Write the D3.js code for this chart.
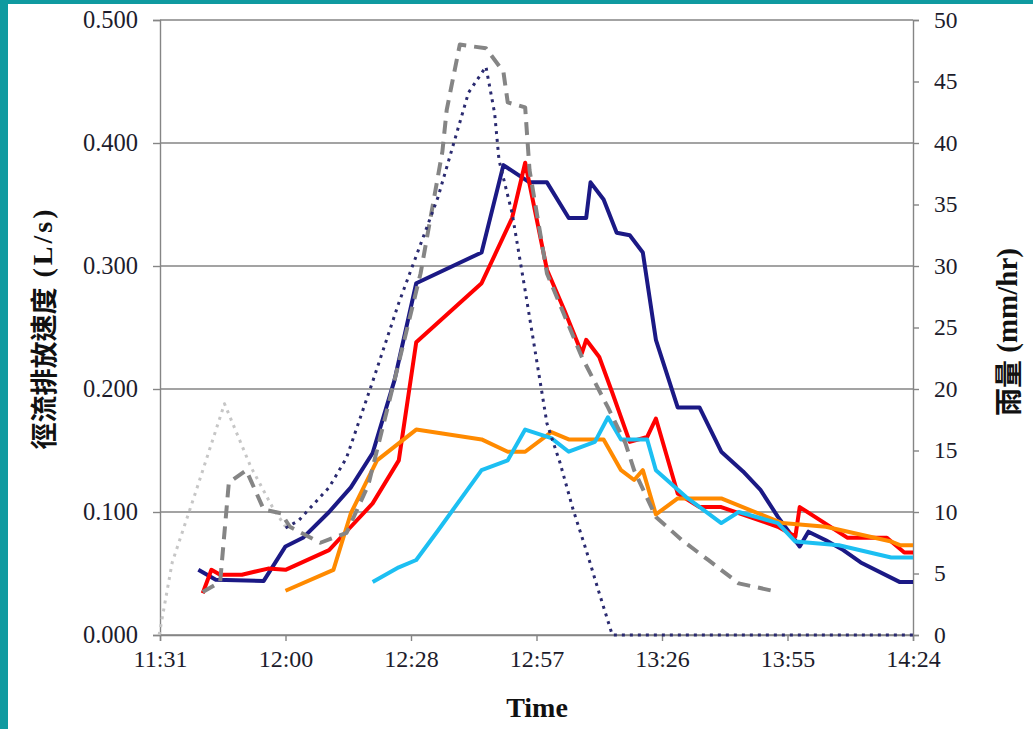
<!DOCTYPE html>
<html><head><meta charset="utf-8">
<script src="https://cdn.jsdelivr.net/npm/d3@7"></script>
<style>html,body{margin:0;padding:0;background:#fff;}svg{display:block;}</style>
</head><body>
<script>
// ---- data ----
const xTickLabels = ["11:31","12:00","12:28","12:57","13:26","13:55","14:24"];
const xTickDays = [0.48,0.50,0.52,0.54,0.56,0.58,0.60];
const leftTicks = [0,0.1,0.2,0.3,0.4,0.5];
const rightTicks = [0,5,10,15,20,25,30,35,40,45,50];

const navyTimes = ["11:40","11:44","11:55","12:00","12:04","12:10","12:15","12:20","12:25","12:30","12:45","12:50","12:56","13:00","13:05","13:09","13:10","13:13","13:16","13:19","13:22","13:25","13:30","13:35","13:40","13:45","13:49","13:53","13:58","14:00","14:04","14:08","14:12","14:21","14:24"];
const navyVals = [0.053,0.045,0.044,0.072,0.079,0.100,0.120,0.148,0.207,0.286,0.311,0.382,0.368,0.368,0.339,0.339,0.368,0.354,0.327,0.325,0.311,0.240,0.185,0.185,0.149,0.133,0.118,0.096,0.072,0.084,0.077,0.069,0.059,0.043,0.043];

const redTimes = ["11:41","11:43","11:45","11:50","11:56","12:00","12:10","12:15","12:20","12:26","12:30","12:45","12:52","12:55","13:00","13:04","13:08","13:09","13:12","13:15","13:19","13:23","13:25","13:30","13:35","13:40","13:53","13:57","13:58","14:09","14:18","14:22","14:24"];
const redVals = [0.034,0.053,0.049,0.049,0.054,0.053,0.069,0.088,0.107,0.142,0.238,0.286,0.339,0.384,0.297,0.264,0.229,0.240,0.226,0.197,0.157,0.161,0.176,0.115,0.104,0.104,0.088,0.080,0.104,0.079,0.079,0.067,0.067];

const orangeTimes = ["12:00","12:11","12:15","12:21","12:30","12:45","12:51","12:55","13:01","13:05","13:13","13:17","13:20","13:22","13:25","13:30","13:40","13:54","14:04","14:19","14:21","14:24"];
const orangeVals = [0.036,0.053,0.099,0.142,0.167,0.159,0.149,0.149,0.165,0.159,0.159,0.134,0.126,0.134,0.098,0.111,0.111,0.091,0.088,0.076,0.073,0.073];

const cyanTimes = ["12:20","12:26","12:30","12:35","12:45","12:51","12:55","13:01","13:05","13:11","13:14","13:17","13:23","13:25","13:32","13:40","13:44","13:53","13:57","14:07","14:19","14:24"];
const cyanVals = [0.043,0.055,0.061,0.085,0.134,0.142,0.167,0.160,0.149,0.157,0.177,0.159,0.159,0.134,0.112,0.091,0.100,0.091,0.076,0.073,0.063,0.063];

// rainfall (mm/hr, right axis)
const grayRainTimes = ["11:41","11:45","11:47","11:51","11:55","11:59","12:01","12:08","12:14","12:19","12:25","12:31","12:36","12:37","12:40","12:46","12:50","12:51","12:55","12:56","13:00","13:08","13:14","13:18","13:20","13:25","13:31","13:37","13:44","13:53"];
const grayRainVals = [3.5,4.3,12.4,13.4,10.2,9.9,8.8,7.5,8.3,12.2,20.7,29.4,39.3,42.7,48.0,47.7,45.8,43.3,42.9,37.8,29.4,22.6,18.5,15.6,13.4,9.6,7.7,6.1,4.2,3.5];

const navyRainTimes = ["12:00","12:03","12:10","12:14","12:20","12:26","12:35","12:42","12:46","12:48","12:49","12:52","12:55","12:57","13:00","13:03","13:06","13:09","13:12","13:15","14:24"];
const navyRainVals = [8.7,9.3,12.0,14.4,20.6,27.0,35.6,44.1,46.2,42.4,38.6,34.3,28.0,23.7,17.2,14.0,10.2,6.9,3.4,0,0];

const lightRainTimes = ["11:31","11:34","11:39","11:46","11:52","11:57","12:00"];
const lightRainVals = [0,5.9,11.2,18.8,13.7,10.4,8.8];

// ---- drawing ----
const W = 1033, H = 729;
const L = 160, R = 913, T = 20, B = 635;
const toMin = s => { const [h,m] = s.split(":").map(Number); return h*60+m; };

const svg = d3.select("body").append("svg").attr("width", W).attr("height", H);
svg.append("rect").attr("width", W).attr("height", H).attr("fill", "#fff");
svg.append("rect").attr("x",0).attr("y",0).attr("width",8).attr("height",H).attr("fill","#0f9aa0");
svg.append("rect").attr("x",0).attr("y",0).attr("width",W).attr("height",4).attr("fill","#0f9aa0");

const x = d3.scaleLinear().domain([0.48*1440, 0.60*1440]).range([L, R]);
const yL = d3.scaleLinear().domain([0, 0.5]).range([B, T]);
const yR = d3.scaleLinear().domain([0, 50]).range([B, T]);

const serif = "'Liberation Serif','Times New Roman',serif";
const gridCol = "#858585";

// gridlines
svg.append("g").selectAll("line").data(leftTicks).join("line")
  .attr("x1", L).attr("x2", R).attr("y1", d => yL(d)).attr("y2", d => yL(d))
  .attr("stroke", gridCol).attr("stroke-width", 1.4);

// left axis
const gLeft = svg.append("g").attr("transform", `translate(${L},0)`)
  .call(d3.axisLeft(yL).tickValues(leftTicks).tickFormat(d3.format(".3f")).tickSize(7).tickPadding(15));
gLeft.select(".domain").attr("stroke", gridCol).attr("stroke-width", 1.4);
gLeft.selectAll(".tick line").attr("stroke", gridCol).attr("stroke-width", 1.4);
gLeft.selectAll("text").attr("font-family", serif).attr("font-size", 24.5).attr("fill", "#1c1c2c");

// right axis
const gRight = svg.append("g").attr("transform", `translate(${R},0)`)
  .call(d3.axisRight(yR).tickValues(rightTicks).tickSize(6).tickPadding(15));
gRight.select(".domain").attr("stroke", gridCol).attr("stroke-width", 1.4);
gRight.selectAll(".tick line").attr("stroke", gridCol).attr("stroke-width", 1.4);
gRight.selectAll("text").attr("font-family", serif).attr("font-size", 23.5).attr("fill", "#1c1c2c");
gRight.selectAll("text").attr("dy", "0.3em");

// bottom axis
const gBot = svg.append("g").attr("transform", `translate(0,${B})`)
  .call(d3.axisBottom(x).tickValues(xTickDays.map(d => d*1440)).tickFormat((d,i) => xTickLabels[i]).tickSize(6).tickPadding(9));
gBot.select(".domain").attr("stroke", gridCol).attr("stroke-width", 1.4);
gBot.selectAll(".tick line").attr("stroke", gridCol).attr("stroke-width", 1.4);
gBot.selectAll("text").attr("font-family", serif).attr("font-size", 24).attr("fill", "#1c1c2c");

// series
function draw(times, vals, y, style) {
  const pts = times.map((t,i) => [toMin(t), vals[i]]);
  const line = d3.line().x(d => x(d[0])).y(d => y(d[1]));
  svg.append("path").datum(pts).attr("d", line).attr("fill", "none")
    .attr("stroke", style.c).attr("stroke-width", style.w)
    .attr("stroke-dasharray", style.dash || null)
    .attr("stroke-linejoin", "round").attr("stroke-linecap", style.cap || "butt");
}
draw(navyTimes, navyVals, yL, {c:"#1b1985", w:4});
draw(redTimes, redVals, yL, {c:"#ff0000", w:4});
draw(orangeTimes, orangeVals, yL, {c:"#ff8a00", w:4});
draw(cyanTimes, cyanVals, yL, {c:"#1cbff2", w:4});
draw(lightRainTimes, lightRainVals, yR, {c:"#c6c6c6", w:3, dash:"3,5"});
draw(grayRainTimes, grayRainVals, yR, {c:"#858585", w:4, dash:"13,8"});
draw(navyRainTimes, navyRainVals, yR, {c:"#2a2a70", w:3, dash:"3,5"});

// axis titles
const cjk = "'Noto Sans CJK TC','Noto Sans CJK SC',sans-serif";
const lt = svg.append("text").attr("transform", "translate(42,328) rotate(-90)")
  .attr("text-anchor", "middle").attr("dominant-baseline", "central").attr("fill", "#111");
lt.append("tspan").text("徑流排放速度").attr("font-family", cjk).attr("font-size", 27).attr("font-weight", 700);
lt.append("tspan").text(" (L/s)").attr("font-family", serif).attr("font-size", 28).attr("font-weight", 700).attr("letter-spacing", 3);

const rt = svg.append("text").attr("transform", "translate(1007,332) rotate(-90)")
  .attr("text-anchor", "middle").attr("dominant-baseline", "central").attr("fill", "#111");
rt.append("tspan").text("雨量").attr("font-family", cjk).attr("font-size", 28).attr("font-weight", 700);
rt.append("tspan").text(" (mm/hr)").attr("font-family", serif).attr("font-size", 29).attr("font-weight", 700);

svg.append("text").attr("x", 537).attr("y", 717).attr("text-anchor", "middle")
  .attr("font-family", serif).attr("font-size", 28).attr("font-weight", 700).attr("fill", "#111").text("Time");
</script>
</body></html>
